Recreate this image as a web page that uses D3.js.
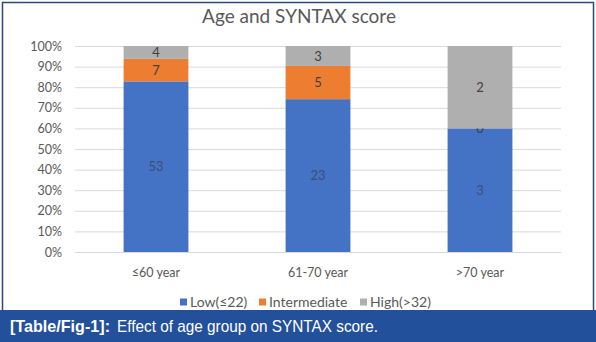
<!DOCTYPE html>
<html>
<head>
<meta charset="utf-8">
<script src="https://cdn.jsdelivr.net/npm/d3@7"></script>
<style>
  html, body { margin: 0; padding: 0; background: #fff; }
  svg { display: block; }
</style>
</head>
<body>
<svg id="chart" width="596" height="342"></svg>
<script>
// age groups and SYNTAX score counts
const ageGroups = ["≤60 year", "61-70 year", ">70 year"];
const lowCounts = [53, 23, 3];
const intermediateCounts = [7, 5, 0];
const highCounts = [4, 3, 2];
const seriesNames = ["Low(≤22)", "Intermediate", "High(>32)"];
const seriesColors = ["#4472c4", "#ed7d31", "#afafaf"];
const yTicks = [0, 0.1, 0.2, 0.3, 0.4, 0.5, 0.6, 0.7, 0.8, 0.9, 1];

const W = 596, H = 342;
const svg = d3.select("#chart");
const font = "Lato, 'Open Sans', sans-serif";

// frame
svg.append("rect")
  .attr("x", 2.5).attr("y", 2.5)
  .attr("width", W - 5).attr("height", H - 5)
  .attr("fill", "#fff")
  .attr("stroke", "#2c4a78").attr("stroke-width", 1.5);

const plot = { left: 75, right: 561, top: 46, bottom: 252 };

const x = d3.scaleBand()
  .domain(ageGroups)
  .range([plot.left, plot.right])
  .paddingInner(0.6)
  .paddingOuter(0.3);

const y = d3.scaleLinear()
  .domain([0, 1])
  .range([plot.bottom, plot.top]);

// title
svg.append("text")
  .attr("x", 299).attr("y", 23)
  .attr("text-anchor", "middle")
  .attr("font-family", font)
  .attr("font-size", 19)
  .attr("fill", "#595959")
  .text("Age and SYNTAX score");

// gridlines + y labels
const yAxis = svg.append("g")
  .attr("transform", `translate(${plot.left},0)`)
  .call(d3.axisLeft(y).tickValues(yTicks).tickFormat(d3.format(".0%"))
    .tickSize(-(plot.right - plot.left)).tickPadding(13));
yAxis.select(".domain").remove();
yAxis.selectAll(".tick line").attr("stroke", "#d9d9d9").attr("stroke-width", 1);
yAxis.selectAll(".tick text")
  .attr("font-family", font).attr("font-size", 12.5).attr("fill", "#595959");

// x labels
const xAxis = svg.append("g")
  .attr("transform", `translate(0,${plot.bottom})`)
  .call(d3.axisBottom(x).tickSize(0).tickPadding(16));
xAxis.select(".domain").remove();
xAxis.selectAll(".tick text")
  .attr("font-family", font).attr("font-size", 12.5).attr("fill", "#595959");

// stacked percentages
const rows = ageGroups.map((g, i) => ({
  group: g,
  [seriesNames[0]]: lowCounts[i],
  [seriesNames[1]]: intermediateCounts[i],
  [seriesNames[2]]: highCounts[i]
}));
rows.forEach(r => { r.total = seriesNames.reduce((s, k) => s + r[k], 0); });

const stack = d3.stack()
  .keys(seriesNames)
  .value((d, k) => d[k] / d.total);
const layers = stack(rows);

const layerG = svg.append("g").selectAll("g")
  .data(layers)
  .join("g")
  .attr("fill", (d, i) => seriesColors[i]);

layerG.selectAll("rect")
  .data(d => d.map(v => ({ v, key: d.key })))
  .join("rect")
  .attr("x", d => x(d.v.data.group))
  .attr("width", x.bandwidth())
  .attr("y", d => y(d.v[1]))
  .attr("height", d => y(d.v[0]) - y(d.v[1]));

// value labels
layerG.selectAll("text")
  .data(d => d.map(v => ({ v, key: d.key })))
  .join("text")
  .attr("x", d => x(d.v.data.group) + x.bandwidth() / 2)
  .attr("y", d => y((d.v[0] + d.v[1]) / 2))
  .attr("dy", "0.35em")
  .attr("text-anchor", "middle")
  .attr("font-family", font)
  .attr("font-size", 13)
  .attr("fill", d => d.key === seriesNames[0] ? "#3d4f73" : "#404040")
  .text(d => d.v.data[d.key]);

// legend
const legendX = [180, 259, 360];
const legend = svg.append("g").selectAll("g")
  .data(seriesNames)
  .join("g")
  .attr("transform", (d, i) => `translate(${legendX[i]},302)`);
legend.append("rect")
  .attr("x", 0).attr("y", -3.5)
  .attr("width", 7).attr("height", 7)
  .attr("fill", (d, i) => seriesColors[i]);
legend.append("text")
  .attr("x", 10).attr("y", 0)
  .attr("dy", "0.35em")
  .attr("font-family", font)
  .attr("font-size", 14)
  .attr("fill", "#595959")
  .text(d => d);

// caption bar
svg.append("rect")
  .attr("x", 0).attr("y", 310)
  .attr("width", W).attr("height", H - 310)
  .attr("fill", "#23509b");
svg.append("text")
  .attr("x", 10).attr("y", 332)
  .attr("font-family", "'Liberation Sans', Arial, sans-serif")
  .attr("font-size", 17)
  .attr("font-weight", "bold")
  .attr("fill", "#fff")
  .attr("textLength", 100)
  .attr("lengthAdjust", "spacingAndGlyphs")
  .text("[Table/Fig-1]:");
svg.append("text")
  .attr("x", 117).attr("y", 332)
  .attr("font-family", "'Liberation Sans', Arial, sans-serif")
  .attr("font-size", 17)
  .attr("fill", "#fff")
  .attr("textLength", 261)
  .attr("lengthAdjust", "spacingAndGlyphs")
  .text("Effect of age group on SYNTAX score.");
</script>
</body>
</html>
